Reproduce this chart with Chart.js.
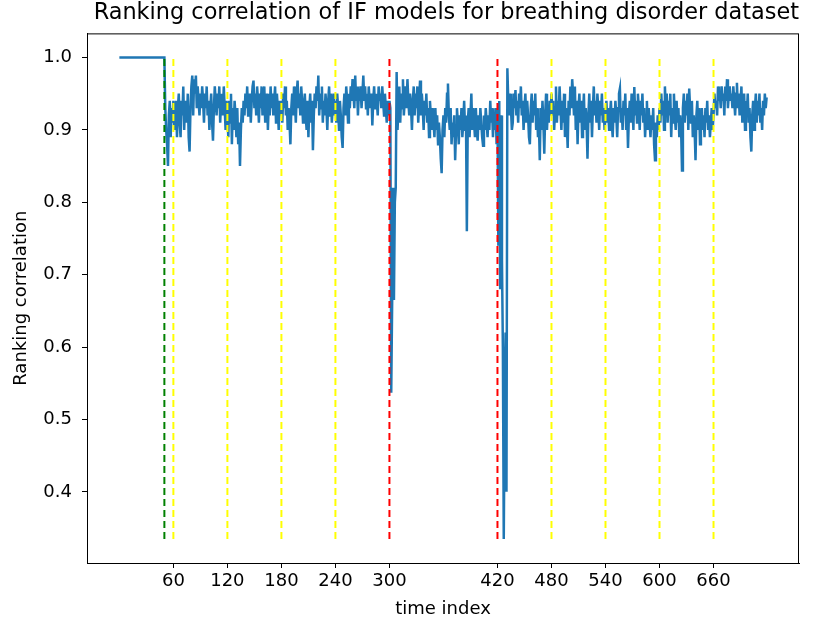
<!DOCTYPE html>
<html>
<head>
<meta charset="utf-8">
<title>Ranking correlation</title>
<script src="https://cdn.jsdelivr.net/npm/chart.js@4.4.1/dist/chart.umd.min.js"></script>
<style>
    html, body { margin: 0; padding: 0; background: #fff; }
    #wrap { width: 822px; height: 625px; }
</style>
</head>
<body>
<div id="wrap"><canvas id="rankChart" width="822" height="625"></canvas></div>
<script>
// ranking correlation per time index (0..719)
var rankCorr = [
    1.0,1.0,1.0,1.0,1.0,1.0,1.0,1.0,1.0,1.0,
    1.0,1.0,1.0,1.0,1.0,1.0,1.0,1.0,1.0,1.0,
    1.0,1.0,1.0,1.0,1.0,1.0,1.0,1.0,1.0,1.0,
    1.0,1.0,1.0,1.0,1.0,1.0,1.0,1.0,1.0,1.0,
    1.0,1.0,1.0,1.0,1.0,1.0,1.0,1.0,1.0,1.0,
    1.0,0.93,0.90,0.88,0.85,0.92,0.94,0.89,0.93,0.91,
    0.94,0.90,0.92,0.94,0.89,0.93,0.95,0.91,0.89,0.94,
    0.92,0.96,0.90,0.94,0.93,0.91,0.95,0.89,0.87,0.93,
    0.96,0.975,0.92,0.97,0.95,0.975,0.93,0.96,0.94,0.92,
    0.95,0.93,0.96,0.94,0.91,0.95,0.93,0.96,0.92,0.94,
    0.90,0.93,0.95,0.91,0.885,0.93,0.96,0.94,0.92,0.95,
    0.93,0.96,0.91,0.94,0.95,0.92,0.96,0.93,0.90,0.94,
    0.92,0.89,0.94,0.91,0.95,0.88,0.93,0.90,0.94,0.92,
    0.89,0.93,0.88,0.91,0.85,0.90,0.93,0.91,0.94,0.92,
    0.95,0.93,0.96,0.92,0.94,0.95,0.91,0.94,0.96,0.968,
    0.93,0.95,0.92,0.96,0.94,0.91,0.95,0.93,0.96,0.92,
    0.94,0.96,0.91,0.93,0.95,0.90,0.94,0.92,0.96,0.93,
    0.95,0.92,0.94,0.96,0.91,0.95,0.93,0.90,0.94,0.92,
    0.94,0.91,0.95,0.93,0.96,0.92,0.94,0.90,0.93,0.91,
    0.88,0.93,0.95,0.92,0.96,0.94,0.91,0.95,0.968,0.93,
    0.95,0.92,0.96,0.94,0.91,0.93,0.95,0.92,0.90,0.94,
    0.89,0.93,0.95,0.91,0.94,0.872,0.92,0.95,0.93,0.96,
    0.94,0.975,0.92,0.95,0.93,0.96,0.91,0.94,0.92,0.95,
    0.93,0.90,0.94,0.96,0.92,0.95,0.91,0.93,0.95,0.92,
    0.94,0.91,0.95,0.93,0.90,0.94,0.92,0.89,0.875,0.93,
    0.95,0.92,0.96,0.94,0.91,0.95,0.93,0.96,0.94,0.97,
    0.95,0.93,0.975,0.94,0.96,0.92,0.95,0.94,0.96,0.93,
    0.95,0.975,0.94,0.96,0.93,0.95,0.92,0.96,0.94,0.93,
    0.95,0.906,0.94,0.96,0.93,0.95,0.94,0.92,0.96,0.94,
    0.95,0.93,0.96,0.94,0.92,0.95,0.93,0.91,0.94,0.92,
    0.94,0.93,0.537,0.66,0.82,0.665,0.80,0.82,0.98,0.90,
    0.93,0.96,0.91,0.95,0.93,0.97,0.92,0.94,0.96,0.93,
    0.97,0.94,0.92,0.95,0.93,0.90,0.94,0.96,0.92,0.95,
    0.93,0.96,0.91,0.94,0.968,0.92,0.95,0.93,0.90,0.94,
    0.92,0.95,0.91,0.93,0.89,0.94,0.92,0.90,0.93,0.91,
    0.89,0.93,0.90,0.92,0.88,0.91,0.89,0.86,0.84,0.90,
    0.92,0.89,0.93,0.91,0.95,0.964,0.92,0.90,0.93,0.88,
    0.91,0.89,0.92,0.858,0.90,0.93,0.91,0.88,0.92,0.90,
    0.93,0.89,0.91,0.94,0.90,0.92,0.76,0.91,0.93,0.89,
    0.92,0.95,0.90,0.93,0.91,0.89,0.93,0.90,0.885,0.92,
    0.90,0.93,0.91,0.89,0.878,0.92,0.90,0.93,0.91,0.89,
    0.92,0.90,0.94,0.91,0.93,0.89,0.92,0.90,0.93,0.88,
    0.93,0.74,0.94,0.68,0.92,0.72,0.60,0.335,0.52,0.62,
    0.40,0.985,0.94,0.92,0.95,0.93,0.90,0.91,0.95,0.93,
    0.955,0.92,0.94,0.91,0.95,0.93,0.96,0.92,0.94,0.90,
    0.93,0.95,0.91,0.94,0.92,0.89,0.88,0.93,0.95,0.91,
    0.94,0.92,0.95,0.90,0.93,0.89,0.91,0.858,0.93,0.90,
    0.94,0.91,0.867,0.92,0.95,0.90,0.93,0.91,0.94,0.92,
    0.95,0.92,0.94,0.90,0.93,0.96,0.91,0.94,0.92,0.96,
    0.93,0.90,0.94,0.91,0.95,0.89,0.93,0.91,0.875,0.94,
    0.92,0.96,0.93,0.97,0.95,0.92,0.96,0.90,0.94,0.88,
    0.93,0.95,0.91,0.94,0.89,0.92,0.95,0.90,0.93,0.91,
    0.86,0.92,0.95,0.91,0.94,0.89,0.93,0.96,0.92,0.94,
    0.91,0.95,0.93,0.90,0.94,0.92,0.95,0.91,0.93,0.90,
    0.92,0.94,0.91,0.93,0.90,0.92,0.94,0.91,0.89,0.93,
    0.91,0.94,0.92,0.89,0.93,0.95,0.957,0.91,0.93,0.90,
    0.94,0.92,0.95,0.90,0.93,0.875,0.92,0.94,0.91,0.95,
    0.93,0.90,0.959,0.92,0.94,0.91,0.95,0.93,0.90,0.94,
    0.92,0.95,0.91,0.93,0.89,0.92,0.94,0.90,0.93,0.91,
    0.89,0.92,0.90,0.93,0.88,0.858,0.91,0.89,0.92,0.90,
    0.93,0.91,0.95,0.92,0.94,0.90,0.96,0.93,0.95,0.91,
    0.94,0.92,0.95,0.89,0.93,0.91,0.95,0.92,0.90,0.94,
    0.91,0.93,0.89,0.92,0.90,0.844,0.93,0.95,0.91,0.94,
    0.92,0.95,0.90,0.957,0.93,0.91,0.94,0.89,0.92,0.90,
    0.858,0.92,0.94,0.90,0.93,0.88,0.91,0.93,0.90,0.92,
    0.89,0.93,0.91,0.94,0.90,0.92,0.89,0.91,0.93,0.90,
    0.92,0.95,0.93,0.94,0.92,0.96,0.94,0.95,0.93,0.96,
    0.94,0.95,0.92,0.96,0.94,0.97,0.93,0.95,0.96,0.94,
    0.95,0.93,0.96,0.94,0.92,0.95,0.965,0.93,0.95,0.92,
    0.94,0.96,0.91,0.93,0.95,0.90,0.94,0.92,0.95,0.91,
    0.93,0.89,0.87,0.92,0.94,0.90,0.93,0.95,0.91,0.94,
    0.92,0.95,0.91,0.93,0.90,0.94,0.92,0.95,0.93,0.945
];

// change points drawn as dashed vertical lines
var greenLines = [50];
var yellowLines = [60, 120, 180, 240, 480, 540, 600, 660];
var redLines = [300, 420];

var xTicks = [60, 120, 180, 240, 300, 420, 480, 540, 600, 660];
var yTicks = [0.4, 0.5, 0.6, 0.7, 0.8, 0.9, 1.0];

var yLow = Math.min.apply(null, rankCorr);
var yHigh = Math.max.apply(null, rankCorr);
var yPad = (yHigh - yLow) * 0.05;
var xPad = (rankCorr.length - 1) * 0.05;

function vline(x, color) {
    return {
        data: [{x: x, y: yLow}, {x: x, y: yHigh}],
        borderColor: color,
        borderWidth: 2,
        borderDash: [7, 4],
        pointRadius: 0,
        fill: false,
        order: 1
    };
}

var datasets = [{
    label: 'rank',
    data: rankCorr.map(function(v, i){ return {x: i, y: v}; }),
    borderColor: '#1f77b4',
    borderWidth: 2.5,
    pointRadius: 0,
    tension: 0,
    fill: false,
    order: 2
}];
greenLines.forEach(function(x){ datasets.push(vline(x, '#008000')); });
yellowLines.forEach(function(x){ datasets.push(vline(x, '#ffff00')); });
redLines.forEach(function(x){ datasets.push(vline(x, '#ff0000')); });

// matplotlib style box round the axes
var frame = {
    id: 'frame',
    afterDraw: function(chart){
        var a = chart.chartArea, ctx = chart.ctx;
        ctx.save();
        ctx.strokeStyle = '#000';
        ctx.lineWidth = 1;
        ctx.strokeRect(a.left + 0.5, a.top + 0.5, a.right - a.left - 1, a.bottom - a.top);
        ctx.restore();
    }
};

var font = {family: '"DejaVu Sans", sans-serif', size: 18};

new Chart(document.getElementById('rankChart'), {
    type: 'line',
    data: {datasets: datasets},
    options: {
        responsive: false,
        animation: false,
        layout: {padding: {left: 0, right: 23, top: 0, bottom: 0}},
        plugins: {
            legend: {display: false},
            tooltip: {enabled: false},
            title: {
                display: true,
                align: 'end',
                text: 'Ranking correlation of IF models for breathing disorder dataset',
                color: '#000',
                font: {family: '"DejaVu Sans", sans-serif', size: 22.4, weight: 'normal'},
                padding: {top: 0, bottom: 6.5}
            }
        },
        scales: {
            x: {
                type: 'linear',
                min: -xPad,
                max: rankCorr.length - 1 + xPad,
                afterBuildTicks: function(s){ s.ticks = xTicks.map(function(v){ return {value: v}; }); },
                afterFit: function(s){ s.height = 62; },
                grid: {drawOnChartArea: false, drawTicks: true, tickLength: 5, color: '#000'},
                border: {display: true, color: '#000'},
                ticks: {color: '#000', font: font, padding: 3, maxRotation: 0,
                        callback: function(v){ return String(v); }},
                title: {display: true, text: 'time index', color: '#000', font: font, padding: {top: 0, bottom: 5}}
            },
            y: {
                type: 'linear',
                min: yLow - yPad,
                max: yHigh + yPad,
                afterBuildTicks: function(s){ s.ticks = yTicks.map(function(v){ return {value: v}; }); },
                afterFit: function(s){ s.width = 87; },
                grid: {drawOnChartArea: false, drawTicks: true, tickLength: 5, color: '#000'},
                border: {display: true, color: '#000'},
                ticks: {color: '#000', font: font, padding: 10,
                        callback: function(v){ return v.toFixed(1); }},
                title: {display: true, text: 'Ranking correlation', color: '#000', font: font, padding: {top: 11, bottom: 0}}
            }
        }
    },
    plugins: [frame]
});
</script>
</body>
</html>
